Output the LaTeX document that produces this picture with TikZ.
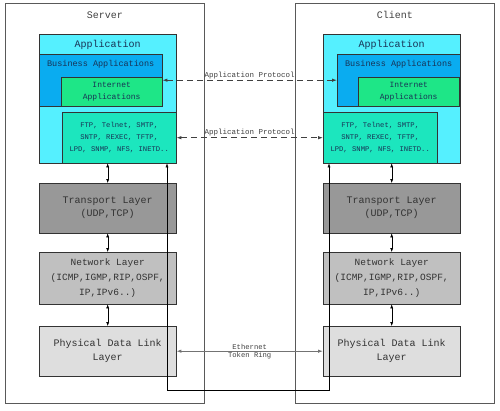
\documentclass[tikz,border=0pt]{standalone}
\usepackage{fontspec}
\newfontfamily\labelfont{Liberation Mono}
\usetikzlibrary{arrows.meta}

\begin{document}
\begin{tikzpicture}[x=1pt, y=-1pt, thin,
  outer/.style={draw=black!65, line width=0.9pt, anchor=north west, inner sep=0pt},
  box/.style={draw=black!80, anchor=north west, inner sep=0pt, align=center,
              text=ink},
  updown/.style={{Latex[length=4pt,width=3pt]}-{Latex[length=4pt,width=3pt]}, black},
  proto/.style={{Latex[length=5pt,width=3.5pt]}-{Latex[length=5pt,width=3.5pt]},
                black!75, line width=0.9pt, dash pattern=on 6pt off 4pt},
  wire/.style={{Latex[length=5pt,width=3.5pt]}-{Latex[length=5pt,width=3.5pt]},
               black!55, line width=0.9pt},
  small/.style={font=\labelfont\fontsize{7.5}{9}\selectfont, text=black!75, inner sep=1pt}
]
\useasboundingbox (0,0) rectangle (500,410);

\definecolor{appcyan}{RGB}{85,240,255}
\definecolor{busblue}{RGB}{10,172,240}
\definecolor{netgreen}{RGB}{30,230,135}
\definecolor{ftpgreen}{RGB}{28,230,190}
\definecolor{ink}{RGB}{25,50,85}
\definecolor{grayA}{RGB}{152,152,152}
\definecolor{grayB}{RGB}{192,192,192}
\definecolor{grayC}{RGB}{222,222,222}

% The two hosts first, everything else sits on top of them.
\foreach \s/\x/\name in {s/5/Server, c/295/Client} {
  \node[outer, minimum width=199pt, minimum height=400pt] (side-\s) at (\x,3) {};
  \node[below=5pt, font=\labelfont\fontsize{10}{12}\selectfont, text=black!75]
    (host-\s) at (side-\s.north) {\name};
}

% Stacks. The inner boxes don't mirror exactly, so the x's are
% given per side: app, business, internet, ftp.
\foreach \s/\ax/\bx/\ix/\fx in {s/39/39/61/62, c/323/337/358/323} {
  \node[box, fill=appcyan, minimum width=137pt, minimum height=129pt]
    (app-\s) at (\ax,34) {};
  \node[below=3pt, font=\labelfont\fontsize{10}{12}\selectfont, text=ink]
    (apptitle-\s) at (app-\s.north) {Application};
  \node[box, fill=busblue, minimum width=123pt, minimum height=52pt]
    (bus-\s) at (\bx,54) {};
  \node[font=\labelfont\fontsize{8.5}{10}\selectfont, text=ink]
    (bustitle-\s) at ([yshift=-10pt]bus-\s.north) {Business Applications};
  \node[box, fill=netgreen, minimum width=101pt, minimum height=29pt,
        font=\labelfont\fontsize{8}{12}\selectfont]
    (inet-\s) at (\ix,77) {Internet\\Applications};
  \node[box, fill=ftpgreen, minimum width=114pt, minimum height=51pt,
        font=\labelfont\fontsize{7.2}{12}\selectfont]
    (ftp-\s) at (\fx,112) {FTP, Telnet, SMTP,\\SNTP, REXEC, TFTP,\\LPD, SNMP, NFS, INETD..};

  \node[box, fill=grayA, minimum width=137pt, minimum height=50pt, text=black!80,
        font=\labelfont\fontsize{10}{13}\selectfont]
    (trans-\s) at (\ax,183) {Transport Layer\\(UDP,TCP)};
  \node[box, fill=grayB, minimum width=137pt, minimum height=52pt, text=black!80,
        font=\labelfont\fontsize{9.5}{15}\selectfont]
    (net-\s) at (\ax,252) {Network Layer\\(ICMP,IGMP,RIP,OSPF,\\IP,IPv6..)};
  \node[box, fill=grayC, minimum width=137pt, minimum height=50pt, text=black!80,
        font=\labelfont\fontsize{10}{14}\selectfont]
    (phy-\s) at (\ax,326) {Physical Data Link\\Layer};

  % layer to layer
  \draw[updown] (app-\s.south) -- (trans-\s.north);
  \draw[updown] (trans-\s.south) -- (net-\s.north);
  \draw[updown] (net-\s.south) -- (phy-\s.north);
}

% The long loop under both stacks, drawn over the gray boxes.
\coordinate (bend-s) at (167,390);
\coordinate (bend-c) at (329,390);
\draw[updown] (app-s.south -| bend-s) -- (bend-s) -- (bend-c) -- (app-c.south -| bend-c);

% peer to peer
\draw[proto] (bus-s.east) -- node[above, small] (proto-bus) {Application Protocol} (bus-c.west);
\draw[proto] (ftp-s.east) -- node[above, small] (proto-ftp) {Application Protocol} (ftp-c.west);
\draw[wire] (phy-s.east) --
  node[above, small, font=\labelfont\fontsize{7.2}{8}\selectfont] (ether) {Ethernet}
  node[below, small, font=\labelfont\fontsize{7.2}{8}\selectfont] (token) {Token Ring}
  (phy-c.west);
\end{tikzpicture}
\end{document}
